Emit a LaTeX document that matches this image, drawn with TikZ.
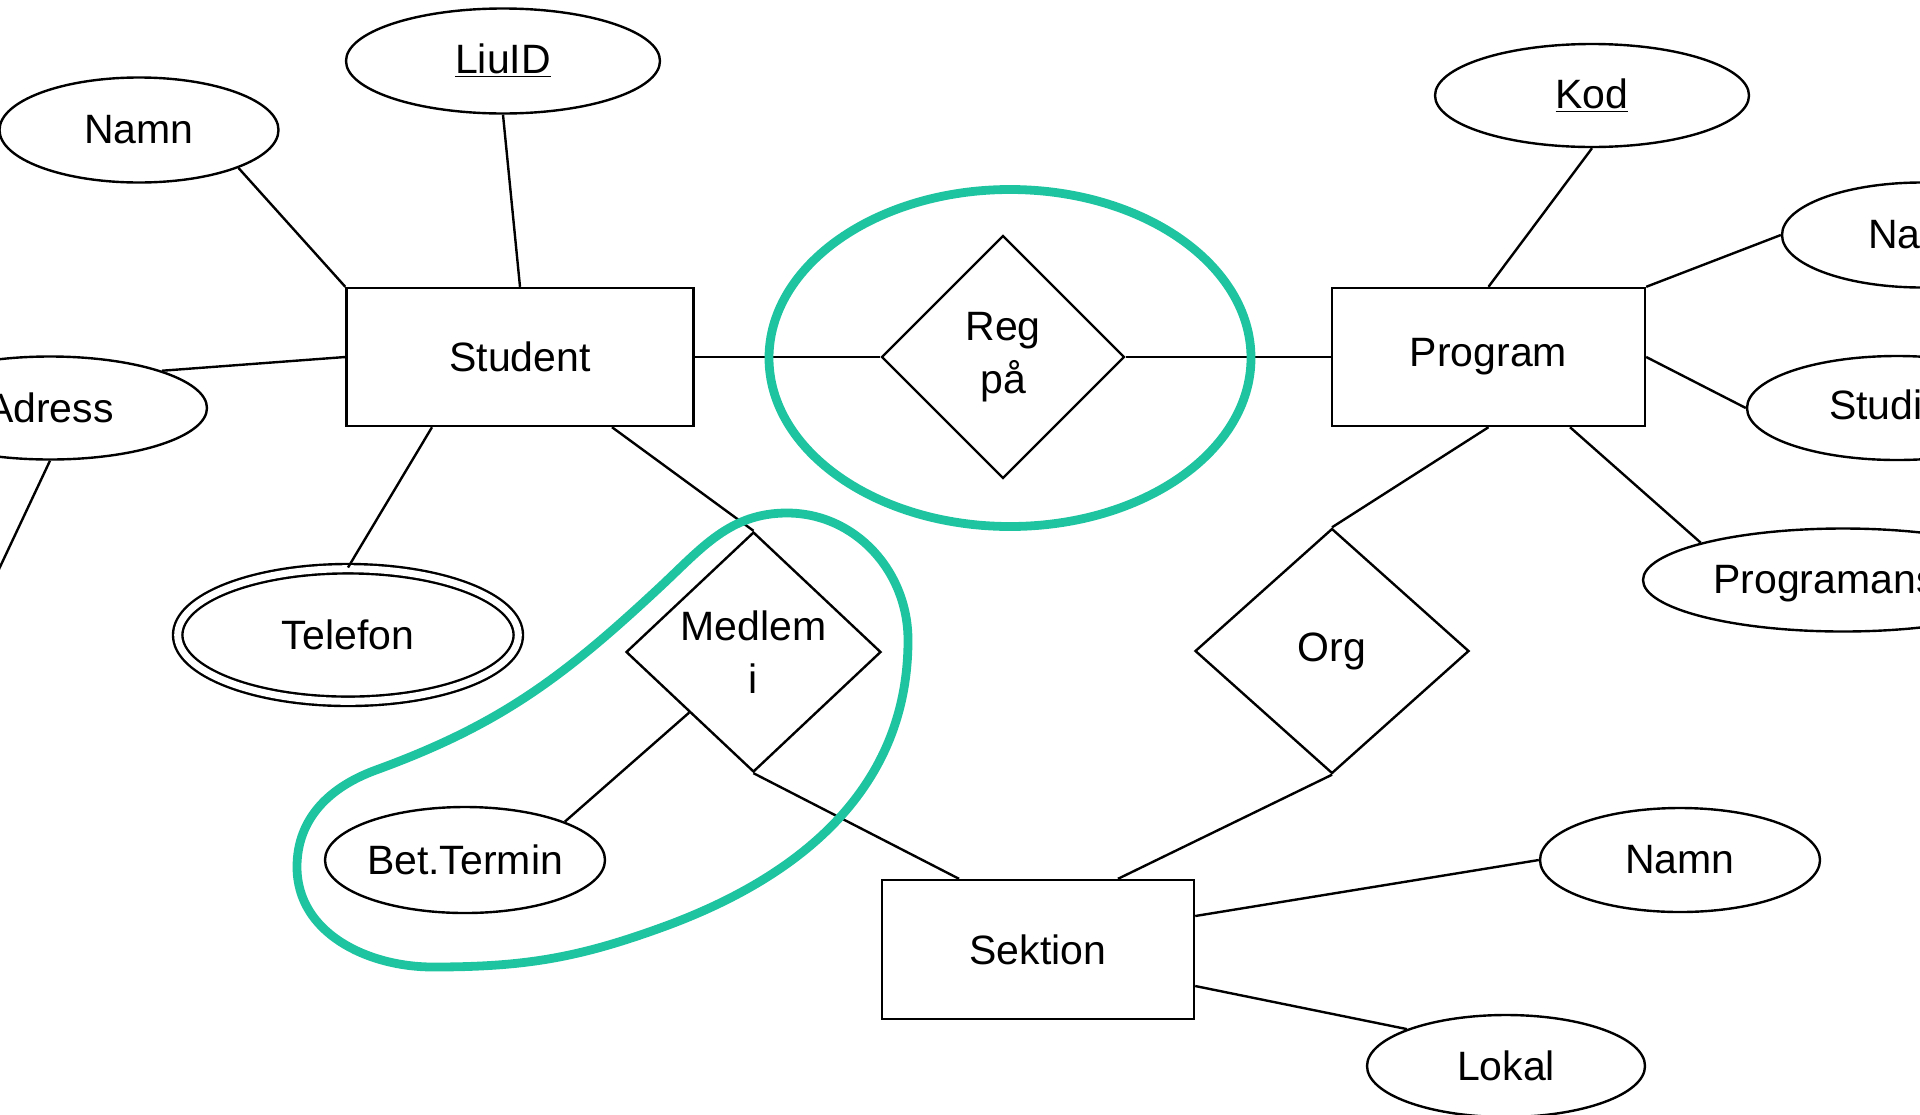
\documentclass[tikz,border=0pt]{standalone}
\usepackage{fontspec}
\setmainfont{Liberation Sans}
\usetikzlibrary{shapes.geometric}
\definecolor{hlgreen}{RGB}{30,196,160}

\begin{document}
\begin{tikzpicture}[x=0.5pt, y=-0.5pt, line width=1.2pt,
                    every node/.style={font=\fontsize{20.5}{26.5}\selectfont},
                    entity/.style={draw, rectangle, minimum height=69pt},
                    attr/.style={draw, ellipse, inner sep=0pt, minimum height=52pt},
                    multiattr/.style={attr, double, double distance=3.5pt},
                    rel/.style={draw, diamond, inner sep=0pt, align=center},
                    cuttext/.style={anchor=base west, inner sep=0pt},
                    hl/.style={draw=hlgreen, line width=4.4pt, line cap=round}]
                    \useasboundingbox (0, 0) rectangle (1920, 1114);
                    \clip (0, 0) rectangle (1920, 1114);

                    \node [entity, minimum width=173.5pt] (stud) at (520, 357) {Student};
                    \node [entity, minimum width=156.5pt] (prog) at (1488.5, 357) {Program};
                    \node [entity, minimum width=156pt, minimum height=69.5pt] (sek) at (1038, 949.5) {Sektion};

                    \node [rel, minimum width=121.5pt, minimum height=121.5pt] (reg) at (1003, 357) {Reg\\på};
                    \node [rel, minimum width=127.5pt, minimum height=120pt] (med) at (753.5, 652) {Medlem\\i};
                    \node [rel, minimum width=137pt, minimum height=122.5pt] (org) at (1332, 651) {Org};

                    \node [attr, minimum width=139.5pt, minimum height=52.5pt] (namn) at (139, 130) {Namn};
                    \node [attr, minimum width=157pt, minimum height=52.5pt] (liu) at (503, 61) {\underline{LiuID}};
                    \node [attr, minimum width=157pt, minimum height=51.5pt] (adr) at (50, 408) {Adress};
                    \node [multiattr, minimum width=170.3pt, minimum height=66.3pt] (tel) at (348, 635) {Telefon};
                    \node [attr, minimum width=140pt, minimum height=53pt] (bet) at (465, 860) {Bet.Termin};
                    \coordinate (adrend) at (-40, 652);

                    \node [attr, minimum width=157pt, minimum height=51.5pt] (kod) at (1592, 95.5) {\underline{Kod}};
                    \node [attr, minimum width=140pt, minimum height=52.5pt] (pnamn) at (1922, 235) {};
                    \node [cuttext] (pnamntxt) at (1867, 248) {Na};
                    \node [attr, minimum width=150pt, minimum height=52pt] (studi) at (1897, 408) {};
                    \node [cuttext] (studitxt) at (1828, 419) {Studi};
                    \node [attr, minimum width=200pt, minimum height=51.5pt] (pans) at (1843, 580) {};
                    \node [cuttext] (panstxt) at (1712, 593) {Programans};

                    \node [attr, minimum width=140pt, minimum height=52pt] (snamn) at (1680, 860) {Namn};
                    \node [attr, minimum width=139pt, minimum height=51pt] (lok) at (1506, 1066) {Lokal};

                    \draw (namn.south east) -- (stud.north west);
                    \draw (liu.south) -- (stud.north);
                    \draw (adr.north east) -- (stud.west);
                    \draw (adr.south) -- (adrend);
                    \draw (tel.north) -- ([xshift=-44pt]stud.south);
                    \draw ([xshift=46pt]stud.south) -- (med.north);
                    \draw (bet.north east) -- (med.south west);
                    \draw (med.south) -- ([xshift=-39.5pt]sek.north);
                    \draw (org.south) -- ([xshift=40pt]sek.north);
                    \draw (prog.south) -- (org.north);
                    \draw (stud.east) -- (reg.west);
                    \draw (reg.east) -- (prog.west);
                    \draw (kod.south) -- (prog.north);
                    \draw (prog.north east) -- (pnamn.west);
                    \draw (prog.east) -- (studi.west);
                    \draw ([xshift=40.75pt]prog.south) -- (pans.north west);
                    \draw ([yshift=16.75pt]sek.east) -- (snamn.west);
                    \draw ([yshift=-18.25pt]sek.east) -- (lok.north west);

                    \draw [hl] (1010, 358) ellipse [x radius=120.5pt, y radius=84.25pt];
                    \draw [hl] (787, 513) to [out=0, in=90] (908, 640)
                        to [out=-90, in=20] (663, 927)
                        to [out=200, in=0] (433, 967)
                        to [out=180, in=-90] (297, 867)
                        to [out=90, in=200] (376, 770)
                        to [out=20, in=223] (660, 587)
                        to [out=43, in=180] (787, 513);
                \end{tikzpicture}
\end{document}
